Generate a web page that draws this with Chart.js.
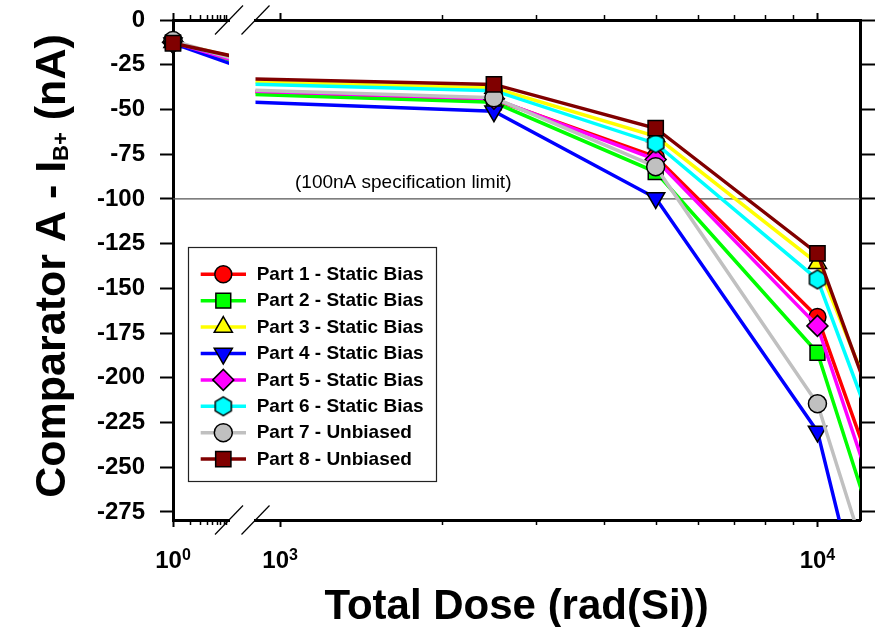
<!DOCTYPE html>
<html>
<head>
<meta charset="utf-8">
<script src="https://cdn.jsdelivr.net/npm/chart.js@4.4.1/dist/chart.umd.min.js"></script>
<style>
html,body{margin:0;padding:0;background:#fff;}
#wrap{position:relative;width:880px;height:627px;}
</style>
</head>
<body>
<div id="wrap"><canvas id="c" width="880" height="627"></canvas></div>
<script>
// ---------------- data ----------------
const doses = [1, 2500, 5000, 10000, 15000];           // rad(Si); pre-rad plotted at 10^0
const part1 = [-12.5, -44.5, -76.5, -166, -315];
const part2 = [-12.5, -46, -85, -186, -351];
const part3 = [-12.5, -38, -65, -136, -267];
const part4 = [-13, -51, -99.5, -230, -445];
const part5 = [-12.5, -44, -78, -171, -330];
const part6 = [-12.5, -39.5, -69, -145, -287];
const part7 = [-11.5, -43.5, -82, -214.5, -382];
const part8 = [-13, -36, -60.5, -130.5, -276];
const seriesLabels = [
  'Part 1 - Static Bias', 'Part 2 - Static Bias', 'Part 3 - Static Bias',
  'Part 4 - Static Bias', 'Part 5 - Static Bias', 'Part 6 - Static Bias',
  'Part 7 - Unbiased', 'Part 8 - Unbiased'
];
const yTickValues = [0, -25, -50, -75, -100, -125, -150, -175, -200, -225, -250, -275];
const xTicksLow = [1, 2, 3, 4, 5, 6, 7, 8, 9];
const xTicksHigh = [1000, 2000, 3000, 4000, 5000, 6000, 7000, 8000, 9000, 10000];
const xMajor = [1, 1000, 10000];
const limitLevel = -100;
const limitSpan = [1, 12000];
const limitNote = '(100nA specification limit)';
const xTitle = 'Total Dose (rad(Si))';
const yTitleMain = 'Comparator A - I';
const yTitleSub = 'B+';
const yTitleEnd = ' (nA)';

// ---------------- layout / style ----------------
const FONT = "'Liberation Sans', Arial, Helvetica, sans-serif";
const LEFT_W = 173, RIGHT_W = 20, TOP_H = 20, BOTTOM_H = 107;
const SEG_L = 56, SEG_G = 26.5, SEG_R = 604.5;
const LOW_RANGE = [1, 10], HIGH_RANGE = [900, 12000];
const Y_RANGE = [-279.5, 0];

const styles = [
  {color: '#ff0000', point: 'circle', r: 8.5},
  {color: '#00ff00', point: 'rect', r: 10.5},
  {color: '#ffff00', point: 'triangle', r: 10.5},
  {color: '#0000ff', point: 'triangle', r: 10.5, rot: 180},
  {color: '#ff00ff', point: 'rectRot', r: 10.5},
  {color: '#00ffff', point: 'hex', r: 9},
  {color: '#c0c0c0', point: 'circle', r: 9},
  {color: '#800000', point: 'rect', r: 10.8}
];

function makeHex(fill) {
  const R = 9.3, c = document.createElement('canvas');
  c.width = 20; c.height = 22;
  const g = c.getContext('2d');
  g.beginPath();
  for (let k = 0; k < 6; k++) {
    const ang = -Math.PI / 2 + k * Math.PI / 3;
    const px = 10 + R * Math.cos(ang), py = 11 + R * Math.sin(ang);
    if (k) g.lineTo(px, py); else g.moveTo(px, py);
  }
  g.closePath();
  g.fillStyle = fill; g.fill();
  g.lineWidth = 1.5; g.strokeStyle = '#000'; g.stroke();
  return c;
}

const series = [part1, part2, part3, part4, part5, part6, part7, part8];
const pointStyles = styles.map(s => s.point === 'hex' ? makeHex(s.color) : s.point);

// Each part is drawn on both axis segments; the dataset clip (relative to its own
// x-scale box) keeps each copy inside its segment, as with a broken axis.
const datasets = [];
series.forEach((vals, i) => {
  const st = styles[i];
  const common = {
    label: seriesLabels[i],
    yAxisID: 'y',
    borderColor: st.color,
    backgroundColor: st.color,
    borderWidth: 3.5,
    pointStyle: pointStyles[i],
    pointRadius: st.r,
    pointRotation: st.rot || 0,
    pointBackgroundColor: st.color,
    pointBorderColor: '#000',
    pointBorderWidth: 1.5,
    tension: 0,
    order: 8 - i
  };
  datasets.push(Object.assign({}, common, {
    data: doses.map((d, k) => ({x: d, y: vals[k]})),
    xAxisID: 'xL',
    clip: {left: 20, top: 20, right: 0, bottom: 0}
  }));
  datasets.push(Object.assign({}, common, {
    data: doses.map((d, k) => ({x: d, y: vals[k]})),
    xAxisID: 'xR',
    clip: {left: 0, top: 0, right: 0, bottom: 0}
  }));
});
datasets.push({
  label: 'limit',
  data: limitSpan.map(d => ({x: d, y: limitLevel})),
  xAxisID: 'xR', yAxisID: 'y',
  borderColor: '#555', borderWidth: 1.2, pointRadius: 0,
  clip: {left: SEG_L + SEG_G, top: 0, right: 0, bottom: 0}, order: 100
});

const blackBorder = {display: true, color: '#000', width: 3};

function xScale(pos, weight, type, range, tickVals) {
  const o = {
    type: type,
    position: pos,
    stack: pos === 'bottom' ? 'xb' : 'xt',
    stackWeight: weight,
    min: range[0], max: range[1],
    afterFit: s => { s.height = pos === 'bottom' ? BOTTOM_H : TOP_H; s.paddingLeft = 0; s.paddingRight = 0; },
    ticks: {display: false, autoSkip: false},
    grid: {display: false},
    border: {display: false}
  };
  if (tickVals) {
    o.afterBuildTicks = s => { s.ticks = tickVals.map(v => ({value: v, major: xMajor.includes(v)})); };
    o.grid = {
      display: true, drawOnChartArea: false, drawTicks: true,
      tickLength: 7, tickWidth: 2,
      tickColor: c => (c.tick && c.tick.major) ? '#000' : 'rgba(0,0,0,0)'
    };
    o.border = blackBorder;
  }
  return o;
}

function yScale(pos) {
  const left = pos === 'left';
  return {
    type: 'linear',
    position: pos,
    min: Y_RANGE[0], max: Y_RANGE[1],
    afterBuildTicks: s => { s.ticks = yTickValues.map(v => ({value: v})); },
    afterFit: s => { s.width = left ? LEFT_W : RIGHT_W; s.paddingTop = 0; s.paddingBottom = 0; },
    grid: {display: true, drawOnChartArea: false, drawTicks: true, tickLength: left ? 13 : 15, tickWidth: 2, tickColor: '#000'},
    border: blackBorder,
    ticks: {
      display: left, autoSkip: false, padding: 15, color: '#000',
      font: {family: FONT, size: 24, weight: 'bold'},
      callback: v => String(v)
    }
  };
}

function drawSupLabel(ctx, base, exp, cx, baseY) {
  const mainF = `bold 24px ${FONT}`, supF = `bold 16px ${FONT}`;
  ctx.font = mainF; const w1 = ctx.measureText(base).width;
  ctx.font = supF; const w2 = ctx.measureText(exp).width;
  const x0 = cx - (w1 + w2) / 2;
  ctx.textAlign = 'left'; ctx.textBaseline = 'alphabetic';
  ctx.font = mainF; ctx.fillText(base, x0, baseY);
  ctx.font = supF; ctx.fillText(exp, x0 + w1, baseY - 8);
}

const decor = {
  id: 'decor',
  afterDraw(chart) {
    const ctx = chart.ctx, a = chart.chartArea;
    ctx.save();
    ctx.fillStyle = '#000'; ctx.strokeStyle = '#000';

    // minor ticks (shorter than major)
    ctx.lineWidth = 1.5;
    [['xL', 'b'], ['xR', 'b'], ['xLt', 't'], ['xRt', 't']].forEach(([id, side]) => {
      const s = chart.scales[id];
      s.ticks.forEach(t => {
        if (t.major) return;
        const x = Math.round(s.getPixelForValue(t.value)) + 0.5;
        ctx.beginPath();
        if (side === 'b') { ctx.moveTo(x, a.bottom + 1); ctx.lineTo(x, a.bottom + 5); }
        else { ctx.moveTo(x, a.top - 1); ctx.lineTo(x, a.top - 5); }
        ctx.stroke();
      });
    });

    // axis break marks
    ctx.lineWidth = 1.2;
    const bx = [a.left + SEG_L, a.left + SEG_L + SEG_G];
    [a.top, a.bottom].forEach(yy => {
      bx.forEach(xx => {
        ctx.beginPath();
        ctx.moveTo(xx - 14, yy + 14.5);
        ctx.lineTo(xx + 14, yy - 14.5);
        ctx.stroke();
      });
    });

    // x tick labels 10^n
    xMajor.forEach(v => {
      const s = v < LOW_RANGE[1] * 2 ? chart.scales.xL : chart.scales.xR;
      const x = s.getPixelForValue(v);
      drawSupLabel(ctx, '10', String(Math.round(Math.log10(v))), x, 568);
    });

    // x title
    ctx.font = `bold 42px ${FONT}`;
    ctx.textAlign = 'center'; ctx.textBaseline = 'alphabetic';
    ctx.fillText(xTitle, (a.left + a.right) / 2, 619);

    // y title with subscript
    ctx.save();
    ctx.translate(65, 266);
    ctx.rotate(-Math.PI / 2);
    const mainF = `bold 43px ${FONT}`, subF = `bold 22px ${FONT}`;
    ctx.font = mainF; const w1 = ctx.measureText(yTitleMain).width;
    const w3 = ctx.measureText(yTitleEnd).width;
    ctx.font = subF; const w2 = ctx.measureText(yTitleSub).width;
    let x0 = -(w1 + w2 + w3) / 2;
    ctx.textAlign = 'left'; ctx.textBaseline = 'alphabetic';
    ctx.font = mainF; ctx.fillText(yTitleMain, x0, 0);
    ctx.font = subF; ctx.fillText(yTitleSub, x0 + w1, 3);
    ctx.font = mainF; ctx.fillText(yTitleEnd, x0 + w1 + w2, 0);
    ctx.restore();

    // spec limit note
    ctx.font = `19px ${FONT}`;
    ctx.textAlign = 'left'; ctx.textBaseline = 'alphabetic';
    ctx.fillText(limitNote, 295, 188);

    // legend
    const L = {x: 188, y: 247, w: 248, h: 234, row0: 274.3, rowH: 26.4, l0: 200.7, l1: 246, mx: 223.3, tx: 256.7};
    ctx.fillStyle = '#fff';
    ctx.fillRect(L.x, L.y, L.w, L.h);
    ctx.strokeStyle = '#222'; ctx.lineWidth = 1.2;
    ctx.strokeRect(L.x + 0.5, L.y + 0.5, L.w, L.h);
    seriesLabels.forEach((lab, i) => {
      const st = styles[i], yy = L.row0 + i * L.rowH;
      ctx.strokeStyle = st.color; ctx.lineWidth = 3.5;
      ctx.beginPath(); ctx.moveTo(L.l0, yy); ctx.lineTo(L.l1, yy); ctx.stroke();
      ctx.fillStyle = st.color; ctx.strokeStyle = '#000'; ctx.lineWidth = 1.5;
      Chart.helpers.drawPoint(ctx, {pointStyle: pointStyles[i], rotation: st.rot || 0, radius: st.r, borderWidth: 1.5}, L.mx, yy);
      ctx.fillStyle = '#000';
      ctx.font = `bold 19px ${FONT}`;
      ctx.textAlign = 'left'; ctx.textBaseline = 'middle';
      ctx.fillText(lab, L.tx, yy + 0.5);
    });
    ctx.restore();
  }
};

Chart.defaults.font.family = FONT;
Chart.defaults.color = '#000';

new Chart(document.getElementById('c'), {
  type: 'line',
  data: {datasets: datasets},
  options: {
    responsive: false,
    animation: false,
    events: [],
    layout: {padding: 0},
    plugins: {legend: {display: false}, title: {display: false}, tooltip: {enabled: false}},
    scales: {
      y: yScale('left'),
      y2: yScale('right'),
      xL: xScale('bottom', SEG_L, 'logarithmic', LOW_RANGE, xTicksLow),
      xG: xScale('bottom', SEG_G, 'linear', [0, 1], null),
      xR: xScale('bottom', SEG_R, 'logarithmic', HIGH_RANGE, xTicksHigh),
      xRt: xScale('top', SEG_R, 'logarithmic', HIGH_RANGE, xTicksHigh),
      xGt: xScale('top', SEG_G, 'linear', [0, 1], null),
      xLt: xScale('top', SEG_L, 'logarithmic', LOW_RANGE, xTicksLow)
    }
  },
  plugins: [decor]
});
</script>
</body>
</html>
